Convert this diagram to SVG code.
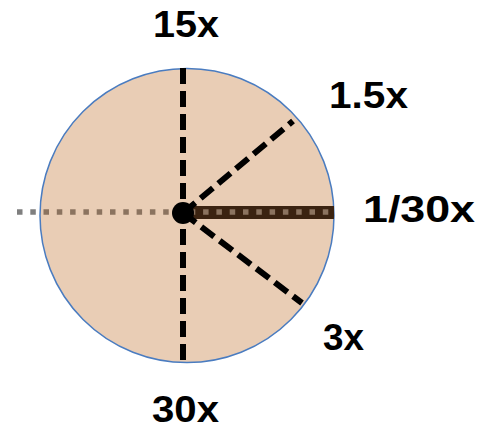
<svg xmlns="http://www.w3.org/2000/svg" width="488" height="434" viewBox="0 0 488 434">
<style>
.lbl{font-family:"Liberation Sans",Arial,sans-serif;font-weight:bold;font-size:37px;fill:#000}
.dash{stroke:#000;stroke-width:6;stroke-dasharray:16 7;fill:none}
</style>
<rect width="488" height="434" fill="#fff"/>
<g id="disc">
<circle cx="187" cy="215.5" r="147" fill="#e9cdb5" stroke="#4a7cc0" stroke-width="1.5"/>
</g>
<g id="connectors">
<line x1="17" y1="212" x2="41" y2="212" stroke="#7f7f7f" stroke-width="5.5" stroke-dasharray="5.5 7.8"/>
<line x1="183" y1="212.5" x2="334" y2="212.5" stroke="#3b2311" stroke-width="13"/>
<line x1="43.5" y1="212" x2="334" y2="212" stroke="#8b735f" stroke-width="5.5" stroke-dasharray="5.5 7.8"/>
<line class="dash" x1="183" y1="68" x2="183" y2="363"/>
<line class="dash" x1="183" y1="213" x2="293" y2="121"/>
<line class="dash" x1="183" y1="213" x2="302" y2="303"/>
<circle cx="183" cy="213" r="11" fill="#000"/>
</g>
<g id="labels">
<text class="lbl" x="153" y="37" textLength="66" lengthAdjust="spacingAndGlyphs">15x</text>
<text class="lbl" x="329" y="108" textLength="79" lengthAdjust="spacingAndGlyphs">1.5x</text>
<text class="lbl" x="363" y="222" textLength="112" lengthAdjust="spacingAndGlyphs">1/30x</text>
<text class="lbl" x="323" y="350" textLength="41" lengthAdjust="spacingAndGlyphs">3x</text>
<text class="lbl" x="152" y="422" textLength="67" lengthAdjust="spacingAndGlyphs">30x</text>
</g>
</svg>
